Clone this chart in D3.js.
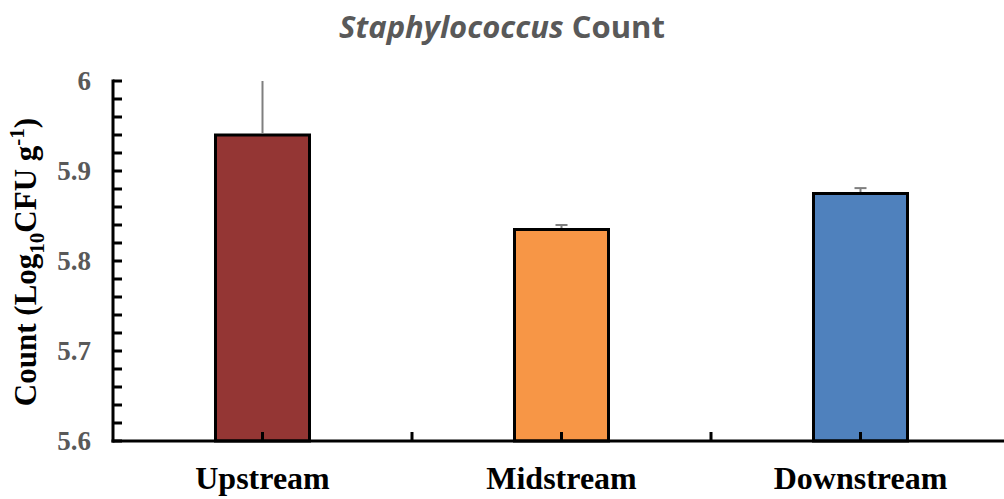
<!DOCTYPE html>
<html>
<head>
<meta charset="utf-8">
<script src="https://cdn.jsdelivr.net/npm/d3@7"></script>
<style>
  html, body { margin: 0; padding: 0; background: #fff; }
  svg { display: block; }
</style>
</head>
<body>
<svg id="chart" width="1004" height="499"></svg>
<script>
// Staphylococcus counts per sampling site (log10 CFU per gram)
const sites = ["Upstream", "Midstream", "Downstream"];
const counts = [5.94, 5.835, 5.875];
const errors = [0.06, 0.005, 0.006];
const barColors = ["#943634", "#F79646", "#4F81BD"];
const yTicks = [5.6, 5.7, 5.8, 5.9, 6];

const svg = d3.select("#chart");
const margin = { left: 113, right: -6, top: 81, bottom: 58 };
const W = 1004, H = 499;

const x = d3.scaleBand()
  .domain(sites)
  .range([margin.left, W - margin.right])
  .paddingInner(0)
  .paddingOuter(0);

const y = d3.scaleLinear()
  .domain([5.6, 6])
  .range([H - margin.bottom, margin.top]);

const barW = 94;
const serif = "'Liberation Serif', 'Times New Roman', serif";

// Bars
svg.append("g").selectAll("rect")
  .data(sites)
  .join("rect")
  .attr("x", (d) => x(d) + x.bandwidth() / 2 - barW / 2)
  .attr("y", (d, i) => y(counts[i]))
  .attr("width", barW)
  .attr("height", (d, i) => y(5.6) - y(counts[i]))
  .attr("fill", (d, i) => barColors[i])
  .attr("stroke", "#000")
  .attr("stroke-width", 3);

// Error bars (upper only)
const eg = svg.append("g").attr("stroke", "#7f7f7f").attr("stroke-width", 2);
sites.forEach((s, i) => {
  const cx = x(s) + x.bandwidth() / 2;
  const top = Math.min(counts[i] + errors[i], 6);
  eg.append("line")
    .attr("x1", cx).attr("x2", cx)
    .attr("y1", y(counts[i]) - 1.5).attr("y2", y(top));
  if (counts[i] + errors[i] < 6) {
    eg.append("line")
      .attr("x1", cx - 6).attr("x2", cx + 6)
      .attr("y1", y(top)).attr("y2", y(top));
  }
});

// Y axis with major and minor ticks pointing inward
const yAxisG = svg.append("g").attr("transform", `translate(${margin.left},0)`);
const minor = d3.range(5.6, 6.0001, 0.02).map((v) => +v.toFixed(2));
yAxisG.selectAll("line.tick")
  .data(minor)
  .join("line")
  .attr("x1", 0).attr("x2", 9)
  .attr("y1", (d) => y(d)).attr("y2", (d) => y(d))
  .attr("stroke", "#000").attr("stroke-width", 3);
yAxisG.append("line")
  .attr("x1", 0).attr("x2", 0)
  .attr("y1", y(6) - 1.5).attr("y2", y(5.6) + 1.5)
  .attr("stroke", "#000").attr("stroke-width", 3);
yAxisG.selectAll("text")
  .data(yTicks)
  .join("text")
  .attr("x", -22)
  .attr("y", (d) => y(d))
  .attr("dy", "0.35em")
  .attr("text-anchor", "end")
  .attr("font-family", serif)
  .attr("font-weight", "bold")
  .attr("font-size", 27)
  .attr("fill", "#595959")
  .text((d) => d3.format("")(d));

// X axis with ticks at category centres and boundaries
const xAxisG = svg.append("g").attr("transform", `translate(0,${y(5.6)})`);
xAxisG.append("line")
  .attr("x1", margin.left - 1.5).attr("x2", W)
  .attr("y1", 0).attr("y2", 0)
  .attr("stroke", "#000").attr("stroke-width", 3);
const xTickPos = [];
sites.forEach((s, i) => {
  xTickPos.push(x(s) + x.bandwidth() / 2);
  if (i > 0) xTickPos.push(x(s));
});
xAxisG.selectAll("line.xt")
  .data(xTickPos)
  .join("line")
  .attr("x1", (d) => d).attr("x2", (d) => d)
  .attr("y1", 0).attr("y2", -9)
  .attr("stroke", "#000").attr("stroke-width", 3);
xAxisG.selectAll("text")
  .data(sites)
  .join("text")
  .attr("x", (d) => x(d) + x.bandwidth() / 2)
  .attr("y", 48)
  .attr("text-anchor", "middle")
  .attr("font-family", serif)
  .attr("font-weight", "bold")
  .attr("font-size", 32)
  .attr("fill", "#000")
  .text((d) => d);

// Y axis title
const yt = svg.append("text")
  .attr("transform", "translate(36,262) rotate(-90)")
  .attr("text-anchor", "middle")
  .attr("font-family", serif)
  .attr("font-weight", "bold")
  .attr("font-size", 31)
  .attr("fill", "#000");
yt.append("tspan").text("Count (Log");
yt.append("tspan").attr("font-size", 21).attr("dy", 8).text("10");
yt.append("tspan").attr("dy", -8).text("CFU g");
yt.append("tspan").attr("font-size", 21).attr("dy", -12).text("-1");
yt.append("tspan").attr("dy", 12).text(")");

// Chart title
const title = svg.append("text")
  .attr("x", 502)
  .attr("y", 38)
  .attr("text-anchor", "middle")
  .attr("font-family", "'Open Sans', 'Noto Sans', sans-serif")
  .attr("font-weight", "bold")
  .attr("font-size", 31)
  .attr("fill", "#595959");
title.append("tspan").attr("font-style", "italic").text("Staphylococcus");
title.append("tspan").text(" Count");
</script>
</body>
</html>
